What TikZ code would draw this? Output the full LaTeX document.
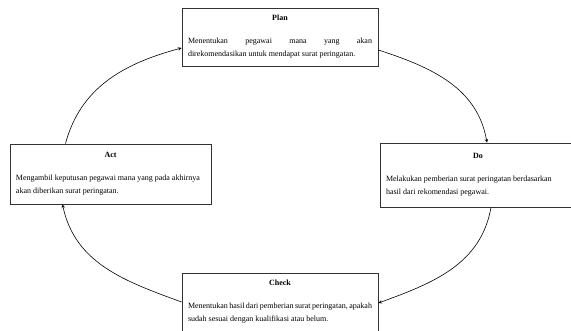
\documentclass[tikz,border=0pt]{standalone}
\usepackage{fontspec}
\setmainfont{Liberation Serif}
\usepackage{tikz}
\newcommand{\stagewidth}{196pt}
\newcommand{\stagefont}{\fontsize{8}{13.5}\selectfont\hyphenpenalty=10000\relax}
\newcommand{\stagetitle}[1]{{\centering\bfseries #1\par}\vspace{9pt}}
\tikzstyle{stage}=[draw=black!80, line width=0.8pt, fill=white, inner xsep=6pt, inner ysep=0pt,
                   minimum width=\stagewidth, text width=\stagewidth-12pt, align=justify,
                   font=\stagefont]
\tikzstyle{cycle}=[draw, line width=0.6pt, ->, >=stealth]
\tikzstyle{pdca}=[x=1pt, y=-1pt,
                  % Fix the page to the size of the reference.
                  execute at begin picture={\useasboundingbox (0, 0) rectangle (571, 331);}]

\begin{document}
\begin{tikzpicture}[pdca]
        \node[stage, minimum height=58pt] (plan) at (280, 37) {\stagetitle{Plan}Menentukan pegawai mana yang akan\linebreak direkomendasikan untuk mendapat surat peringatan.};
        \node[stage, minimum height=64pt] (do) at (478, 175) {\stagetitle{Do}Melakukan pemberian surat peringatan berdasarkan\newline hasil dari rekomendasi pegawai.};
        \node[stage, minimum height=58pt] (check) at (280, 302) {\stagetitle{Check}Menentukan hasil dari pemberian surat peringatan, apakah\newline sudah sesuai dengan kualifikasi atau belum.};
        \node[stage, minimum height=60pt, minimum width=201pt, text width=189pt] (act) at (110.5, 174) {\stagetitle{Act}Mengambil keputusan pegawai mana yang pada akhirnya\newline akan diberikan surat peringatan.};
        \draw[cycle] ([yshift=-13pt]plan.east) to[out=-18, in=100] ([xshift=9pt]do.north);
        \draw[cycle] ([xshift=13pt]do.south) to[out=-100, in=20] ([yshift=-1pt]check.east);
        \draw[cycle] (check.west) to[out=160, in=-78] ([xshift=-48pt]act.south);
        \draw[cycle] ([xshift=-45pt]act.north) to[out=75, in=195] ([yshift=-11pt]plan.west);
    \end{tikzpicture}
\end{document}
